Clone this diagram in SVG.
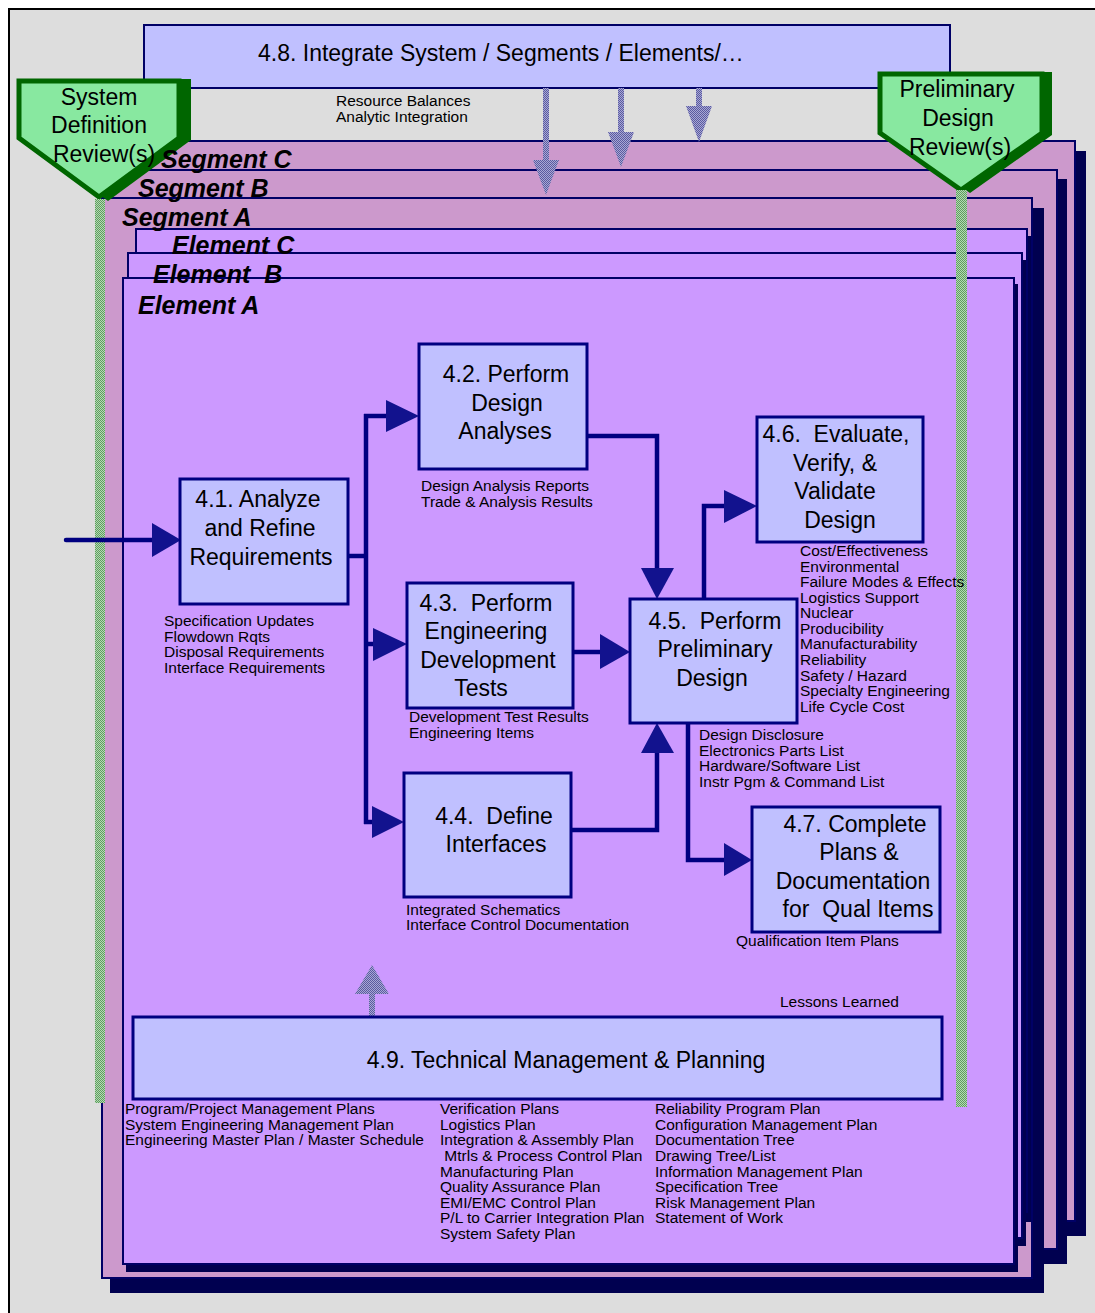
<svg xmlns="http://www.w3.org/2000/svg" width="1095" height="1313" viewBox="0 0 1095 1313">
  <defs>
    <style>
      .big { font-family: "Liberation Sans", Arial, sans-serif; font-size: 23px; fill: #000; }
      .mid { font-family: "Liberation Sans", Arial, sans-serif; font-size: 15.5px; fill: #000; }
      .lbl { font-family: "Liberation Sans", Arial, sans-serif; font-size: 25px; font-weight: bold; font-style: italic; fill: #000; }
      .seg { fill: #cc99cc; stroke: #000066; stroke-width: 2; }
      .elm { fill: #cc99ff; stroke: #000066; stroke-width: 2; }
      .shd { fill: #000050; }
      .box { fill: #c0c0ff; stroke: #000080; stroke-width: 3; }
      .wire { fill: none; stroke: #000080; stroke-width: 4.5; }
      .head { fill: #12128e; }
      .gate { fill: #88e8a0; stroke: #006600; stroke-width: 5; stroke-linejoin: miter; }
      .gshd { fill: #006600; }
    </style>
    <pattern id="dither" width="2" height="2" patternUnits="userSpaceOnUse">
      <rect width="2" height="2" fill="#a8a8d4"/>
      <rect width="1" height="1" fill="#5a5aa0"/>
      <rect x="1" y="1" width="1" height="1" fill="#5a5aa0"/>
    </pattern>
    <pattern id="greendither" width="2" height="2" patternUnits="userSpaceOnUse">
      <rect width="2" height="2" fill="#b4d8b4"/>
      <rect width="1" height="1" fill="#5e9e5e"/>
      <rect x="1" y="1" width="1" height="1" fill="#5e9e5e"/>
    </pattern>
  </defs>

  <!-- page and frame -->
  <rect x="0" y="0" width="1095" height="1313" fill="#ffffff"/>
  <rect x="9" y="9" width="1100" height="1320" fill="#dddddd" stroke="#000000" stroke-width="2"/>

  <!-- 4.8 integration bar -->
  <g id="node-4-8">
    <rect x="144" y="25" width="806" height="63" fill="#c0c0ff" stroke="#000066" stroke-width="2"/>
    <text class="big" x="258" y="61">4.8. Integrate System / Segments / Elements/…</text>
  </g>
  <text class="mid" x="336" y="106">Resource Balances</text>
  <text class="mid" x="336" y="122">Analytic Integration</text>

  <!-- stacked segment and element sheets, back to front -->
  <g id="segment-c">
    <rect class="shd" x="141" y="151" width="945" height="1085"/>
    <rect class="seg" x="130" y="141" width="945" height="1080"/>
  </g>
  <g id="segment-b">
    <rect class="shd" x="123" y="179" width="944" height="1085"/>
    <rect class="seg" x="112" y="170" width="945" height="1079"/>
  </g>
  <g id="segment-a">
    <rect class="shd" x="110" y="208" width="934" height="1085"/>
    <rect class="seg" x="102" y="198" width="930" height="1080"/>
  </g>
  <g id="element-c">
    <rect class="shd" x="140" y="236" width="891" height="986"/>
    <rect class="elm" x="136" y="229" width="891" height="983"/>
  </g>
  <g id="element-b">
    <rect class="shd" x="132" y="260" width="894" height="986"/>
    <rect class="elm" x="128" y="253" width="894" height="985"/>
  </g>
  <g id="element-a">
    <rect class="shd" x="126" y="284" width="892" height="988"/>
    <rect class="elm" x="123" y="278" width="891" height="986"/>
  </g>

  <!-- flow-down arrows from 4.8 and lessons-learned arrow -->
  <g id="integration-arrows" fill="url(#dither)">
    <polygon points="543,88 549,88 549,160 559,160 546,195 533,160 543,160"/>
    <polygon points="618,88 624,88 624,132 634,132 621,167 608,132 618,132"/>
    <polygon points="696,88 702,88 702,106 712,106 699,142 686,106 696,106"/>
    <polygon points="369,1016 375,1016 375,994 389,994 372,965 355,994 369,994"/>
  </g>

  <!-- review gates -->
  <g id="gate-sdr">
    <polygon class="gshd" points="26,79 191,79 191,140 108,201 26,140"/>
    <polygon class="gate" points="19,81 179,81 179,138 99,197 19,138"/>
    <text class="big" x="99" y="105" text-anchor="middle">System</text>
    <text class="big" x="99" y="133" text-anchor="middle">Definition</text>
    <text class="big" x="104" y="162" text-anchor="middle">Review(s)</text>
  </g>
  <g id="gate-pdr">
    <polygon class="gshd" points="888,72 1052,72 1052,135 970,193 888,135"/>
    <polygon class="gate" points="880,74 1042,74 1042,133 961,190 880,133"/>
    <text class="big" x="957" y="97" text-anchor="middle">Preliminary</text>
    <text class="big" x="958" y="126" text-anchor="middle">Design</text>
    <text class="big" x="960" y="155" text-anchor="middle">Review(s)</text>
  </g>
  <rect x="95" y="199" width="10" height="904" fill="url(#greendither)"/>
  <rect x="956" y="190" width="11" height="917" fill="url(#greendither)"/>

  <!-- sheet labels -->
  <text class="lbl" x="161" y="168">Segment C</text>
  <text class="lbl" x="138" y="197">Segment B</text>
  <text class="lbl" x="122" y="226">Segment A</text>
  <text class="lbl" x="172" y="254">Element C</text>
  <text class="lbl" x="153" y="283">Element&#160; B</text>
  <text class="lbl" x="138" y="314">Element A</text>

  <!-- connectors -->
  <g id="connectors">
    <path class="wire" d="M66,540 H154" stroke-linecap="round"/>
    <polygon class="head" points="152,523 181,540 152,557"/>
    <path class="wire" d="M348,556 H366"/>
    <path class="wire" d="M366,414 V824"/>
    <path class="wire" d="M364,416 H388"/>
    <polygon class="head" points="386,400 419,416 386,432"/>
    <path class="wire" d="M366,644 H375"/>
    <polygon class="head" points="373,628 407,644 373,661"/>
    <path class="wire" d="M364,822 H374"/>
    <polygon class="head" points="372,806 404,822 372,838"/>
    <path class="wire" d="M587,436 H657 V570"/>
    <polygon class="head" points="641,568 674,568 657,599"/>
    <path class="wire" d="M573,652 H602"/>
    <polygon class="head" points="600,634 630,652 600,669"/>
    <path class="wire" d="M571,830 H657 V751"/>
    <polygon class="head" points="641,753 674,753 657,723"/>
    <path class="wire" d="M704,599 V506 H726"/>
    <polygon class="head" points="724,490 757,506 724,523"/>
    <path class="wire" d="M688,723 V860 H726"/>
    <polygon class="head" points="724,843 752,860 724,876"/>
  </g>

  <!-- process nodes -->
  <g id="node-4-1">
    <rect class="box" x="180" y="479" width="168" height="125"/>
    <text class="big" x="258" y="507" text-anchor="middle">4.1. Analyze</text>
    <text class="big" x="260" y="536" text-anchor="middle">and Refine</text>
    <text class="big" x="261" y="565" text-anchor="middle">Requirements</text>
  </g>
  <g id="node-4-2">
    <rect class="box" x="419" y="344" width="168" height="125"/>
    <text class="big" x="506" y="382" text-anchor="middle">4.2. Perform</text>
    <text class="big" x="507" y="411" text-anchor="middle">Design</text>
    <text class="big" x="505" y="439" text-anchor="middle">Analyses</text>
  </g>
  <g id="node-4-3">
    <rect class="box" x="407" y="583" width="166" height="125"/>
    <text class="big" x="486" y="611" text-anchor="middle">4.3.&#160; Perform</text>
    <text class="big" x="486" y="639" text-anchor="middle">Engineering</text>
    <text class="big" x="488" y="668" text-anchor="middle">Development</text>
    <text class="big" x="481" y="696" text-anchor="middle">Tests</text>
  </g>
  <g id="node-4-4">
    <rect class="box" x="404" y="773" width="167" height="124"/>
    <text class="big" x="494" y="824" text-anchor="middle">4.4.&#160; Define</text>
    <text class="big" x="496" y="852" text-anchor="middle">Interfaces</text>
  </g>
  <g id="node-4-5">
    <rect class="box" x="630" y="599" width="167" height="124"/>
    <text class="big" x="715" y="629" text-anchor="middle">4.5.&#160; Perform</text>
    <text class="big" x="715" y="657" text-anchor="middle">Preliminary</text>
    <text class="big" x="712" y="686" text-anchor="middle">Design</text>
  </g>
  <g id="node-4-6">
    <rect class="box" x="757" y="417" width="166" height="125"/>
    <text class="big" x="836" y="442" text-anchor="middle">4.6.&#160; Evaluate,</text>
    <text class="big" x="835" y="471" text-anchor="middle">Verify, &amp;</text>
    <text class="big" x="835" y="499" text-anchor="middle">Validate</text>
    <text class="big" x="840" y="528" text-anchor="middle">Design</text>
  </g>
  <g id="node-4-7">
    <rect class="box" x="752" y="807" width="188" height="125"/>
    <text class="big" x="855" y="832" text-anchor="middle">4.7. Complete</text>
    <text class="big" x="859" y="860" text-anchor="middle">Plans &amp;</text>
    <text class="big" x="853" y="889" text-anchor="middle">Documentation</text>
    <text class="big" x="858" y="917" text-anchor="middle">for&#160; Qual Items</text>
  </g>
  <g id="node-4-9">
    <rect class="box" x="133" y="1017" width="809" height="82"/>
    <text class="big" x="566" y="1068" text-anchor="middle">4.9. Technical Management &amp; Planning</text>
  </g>

  <!-- output lists -->
  <text class="mid" x="421"><tspan x="421" y="491">Design Analysis Reports</tspan><tspan x="421" y="507">Trade &amp; Analysis Results</tspan></text>
  <text class="mid"><tspan x="164" y="626">Specification Updates</tspan><tspan x="164" y="642">Flowdown Rqts</tspan><tspan x="164" y="657">Disposal Requirements</tspan><tspan x="164" y="673">Interface Requirements</tspan></text>
  <text class="mid"><tspan x="409" y="722">Development Test Results</tspan><tspan x="409" y="738">Engineering Items</tspan></text>
  <text class="mid"><tspan x="800" y="556">Cost/Effectiveness</tspan><tspan x="800" y="572">Environmental</tspan><tspan x="800" y="587">Failure Modes &amp; Effects</tspan><tspan x="800" y="603">Logistics Support</tspan><tspan x="800" y="618">Nuclear</tspan><tspan x="800" y="634">Producibility</tspan><tspan x="800" y="649">Manufacturability</tspan><tspan x="800" y="665">Reliability</tspan><tspan x="800" y="681">Safety / Hazard</tspan><tspan x="800" y="696">Specialty Engineering</tspan><tspan x="800" y="712">Life Cycle Cost</tspan></text>
  <text class="mid"><tspan x="699" y="740">Design Disclosure</tspan><tspan x="699" y="756">Electronics Parts List</tspan><tspan x="699" y="771">Hardware/Software List</tspan><tspan x="699" y="787">Instr Pgm &amp; Command List</tspan></text>
  <text class="mid"><tspan x="406" y="915">Integrated Schematics</tspan><tspan x="406" y="930">Interface Control Documentation</tspan></text>
  <text class="mid" x="736" y="946">Qualification Item Plans</text>
  <text class="mid" x="780" y="1007">Lessons Learned</text>
  <text class="mid"><tspan x="125" y="1114">Program/Project Management Plans</tspan><tspan x="125" y="1130">System Engineering Management Plan</tspan><tspan x="125" y="1145">Engineering Master Plan / Master Schedule</tspan></text>
  <text class="mid"><tspan x="440" y="1114">Verification Plans</tspan><tspan x="440" y="1130">Logistics Plan</tspan><tspan x="440" y="1145">Integration &amp; Assembly Plan</tspan><tspan x="440" y="1161">&#160;Mtrls &amp; Process Control Plan</tspan><tspan x="440" y="1177">Manufacturing Plan</tspan><tspan x="440" y="1192">Quality Assurance Plan</tspan><tspan x="440" y="1208">EMI/EMC Control Plan</tspan><tspan x="440" y="1223">P/L to Carrier Integration Plan</tspan><tspan x="440" y="1239">System Safety Plan</tspan></text>
  <text class="mid"><tspan x="655" y="1114">Reliability Program Plan</tspan><tspan x="655" y="1130">Configuration Management Plan</tspan><tspan x="655" y="1145">Documentation Tree</tspan><tspan x="655" y="1161">Drawing Tree/List</tspan><tspan x="655" y="1177">Information Management Plan</tspan><tspan x="655" y="1192">Specification Tree</tspan><tspan x="655" y="1208">Risk Management Plan</tspan><tspan x="655" y="1223">Statement of Work</tspan></text>
</svg>
